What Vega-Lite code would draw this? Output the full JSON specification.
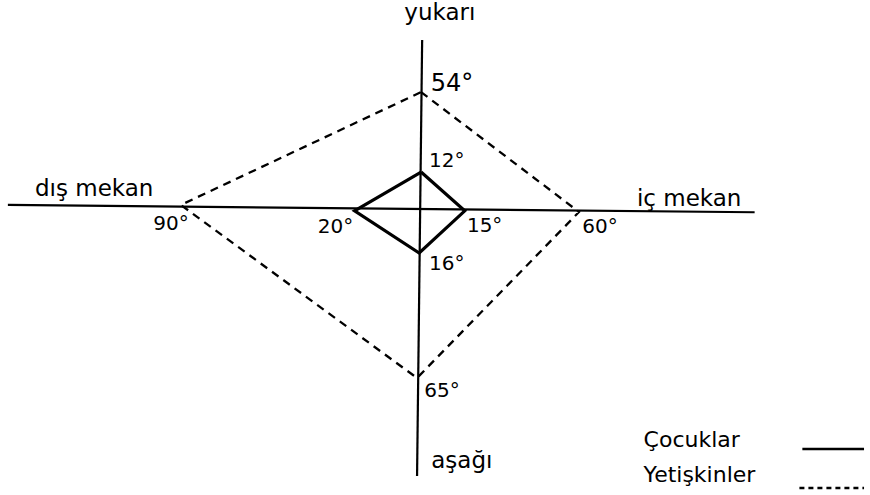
{
  "$schema": "https://vega.github.io/schema/vega-lite/v6.json",
  "width": 870,
  "height": 495,
  "autosize": {"type": "fit", "contains": "padding"},
  "padding": 0,
  "background": "white",
  "config": {"view": {"stroke": null}},
  "datasets": {
    "lines": [
      {"group": "axis", "series": "yatay", "ord": 1, "x": -154.1, "y": 1.5},
      {"group": "axis", "series": "yatay", "ord": 2, "x": 124.4, "y": -1.2},
      {"group": "axis", "series": "dikey", "ord": 1, "x": 0.4, "y": 62.6},
      {"group": "axis", "series": "dikey", "ord": 2, "x": -1.5, "y": -98.9},
      {"group": "Yetişkinler", "series": "Yetişkinler", "ord": 1, "x": 0, "y": 43.3},
      {"group": "Yetişkinler", "series": "Yetişkinler", "ord": 2, "x": 58.9, "y": -1.1},
      {"group": "Yetişkinler", "series": "Yetişkinler", "ord": 3, "x": -1.5, "y": -62.6},
      {"group": "Yetişkinler", "series": "Yetişkinler", "ord": 4, "x": -89.6, "y": 1.5},
      {"group": "Yetişkinler", "series": "Yetişkinler", "ord": 5, "x": 0, "y": 43.3},
      {"group": "Çocuklar", "series": "Çocuklar", "ord": 1, "x": 0, "y": 13.7},
      {"group": "Çocuklar", "series": "Çocuklar", "ord": 2, "x": 16.3, "y": -0.7},
      {"group": "Çocuklar", "series": "Çocuklar", "ord": 3, "x": -0.7, "y": -16.3},
      {"group": "Çocuklar", "series": "Çocuklar", "ord": 4, "x": -24.8, "y": -0.7},
      {"group": "Çocuklar", "series": "Çocuklar", "ord": 5, "x": 0, "y": 13.7},
      {"group": "legend-Çocuklar", "series": "lc", "ord": 1, "x": 142.2, "y": -88.9},
      {"group": "legend-Çocuklar", "series": "lc", "ord": 2, "x": 165.2, "y": -88.9},
      {"group": "legend-Yetişkinler", "series": "ly", "ord": 1, "x": 141.1, "y": -103.3},
      {"group": "legend-Yetişkinler", "series": "ly", "ord": 2, "x": 165.2, "y": -103.3}
    ],
    "labels": [
      {"kind": "angle-top", "text": "54°", "x": 11.5, "y": 46.3},
      {"kind": "angle", "text": "12°", "x": 9.6, "y": 17.8},
      {"kind": "angle", "text": "20°", "x": -31.9, "y": -6.7},
      {"kind": "angle", "text": "15°", "x": 23.7, "y": -6.3},
      {"kind": "angle", "text": "16°", "x": 9.6, "y": -20.4},
      {"kind": "angle", "text": "60°", "x": 66.7, "y": -6.7},
      {"kind": "angle", "text": "90°", "x": -93.3, "y": -5.6},
      {"kind": "angle", "text": "65°", "x": 7.8, "y": -67.4},
      {"kind": "direction", "text": "dış mekan", "x": -121.9, "y": 7.4},
      {"kind": "direction", "text": "iç mekan", "x": 100, "y": 3.7},
      {"kind": "direction", "text": "yukarı", "x": 7, "y": 72.6},
      {"kind": "direction", "text": "aşağı", "x": 15.2, "y": -93.3},
      {"kind": "legend", "text": "Çocuklar", "x": 83, "y": -85.6},
      {"kind": "legend", "text": "Yetişkinler", "x": 83, "y": -98.5}
    ]
  },
  "encoding": {
    "x": {"field": "x", "type": "quantitative", "axis": null, "scale": {"domain": [-157.04, 165.19], "nice": false, "zero": false}},
    "y": {"field": "y", "type": "quantitative", "axis": null, "scale": {"domain": [-105.93, 77.41], "nice": false, "zero": false}}
  },
  "layer": [
    {
      "data": {"name": "lines"},
      "transform": [{"filter": "datum.group === 'axis'"}],
      "mark": {"type": "line", "color": "black", "strokeWidth": 2.2},
      "encoding": {"order": {"field": "ord"}, "detail": {"field": "series"}}
    },
    {
      "data": {"name": "lines"},
      "transform": [{"filter": "datum.group === 'Yetişkinler'"}],
      "mark": {"type": "line", "color": "black", "strokeWidth": 2.3, "strokeDash": [8, 6]},
      "encoding": {"order": {"field": "ord"}, "detail": {"field": "series"}}
    },
    {
      "data": {"name": "lines"},
      "transform": [{"filter": "datum.group === 'Çocuklar'"}],
      "mark": {"type": "line", "color": "black", "strokeWidth": 3.2, "strokeJoin": "miter"},
      "encoding": {"order": {"field": "ord"}, "detail": {"field": "series"}}
    },
    {
      "data": {"name": "lines"},
      "transform": [{"filter": "datum.group === 'legend-Çocuklar'"}],
      "mark": {"type": "line", "color": "black", "strokeWidth": 2.5},
      "encoding": {"order": {"field": "ord"}, "detail": {"field": "series"}}
    },
    {
      "data": {"name": "lines"},
      "transform": [{"filter": "datum.group === 'legend-Yetişkinler'"}],
      "mark": {"type": "line", "color": "black", "strokeWidth": 2.5, "strokeDash": [5, 4]},
      "encoding": {"order": {"field": "ord"}, "detail": {"field": "series"}}
    },
    {
      "data": {"name": "labels"},
      "transform": [{"filter": "datum.kind === 'angle'"}],
      "mark": {"type": "text", "font": "DejaVu Sans", "fontSize": 20, "color": "black", "align": "center", "baseline": "middle"},
      "encoding": {"text": {"field": "text"}}
    },
    {
      "data": {"name": "labels"},
      "transform": [{"filter": "datum.kind === 'angle-top'"}],
      "mark": {"type": "text", "font": "DejaVu Sans", "fontSize": 24, "color": "black", "align": "center", "baseline": "middle"},
      "encoding": {"text": {"field": "text"}}
    },
    {
      "data": {"name": "labels"},
      "transform": [{"filter": "datum.kind === 'direction'"}],
      "mark": {"type": "text", "font": "DejaVu Sans", "fontSize": 23, "color": "black", "align": "center", "baseline": "middle"},
      "encoding": {"text": {"field": "text"}}
    },
    {
      "data": {"name": "labels"},
      "transform": [{"filter": "datum.kind === 'legend'"}],
      "mark": {"type": "text", "font": "DejaVu Sans", "fontSize": 22, "color": "black", "align": "left", "baseline": "middle"},
      "encoding": {"text": {"field": "text"}}
    }
  ]
}
